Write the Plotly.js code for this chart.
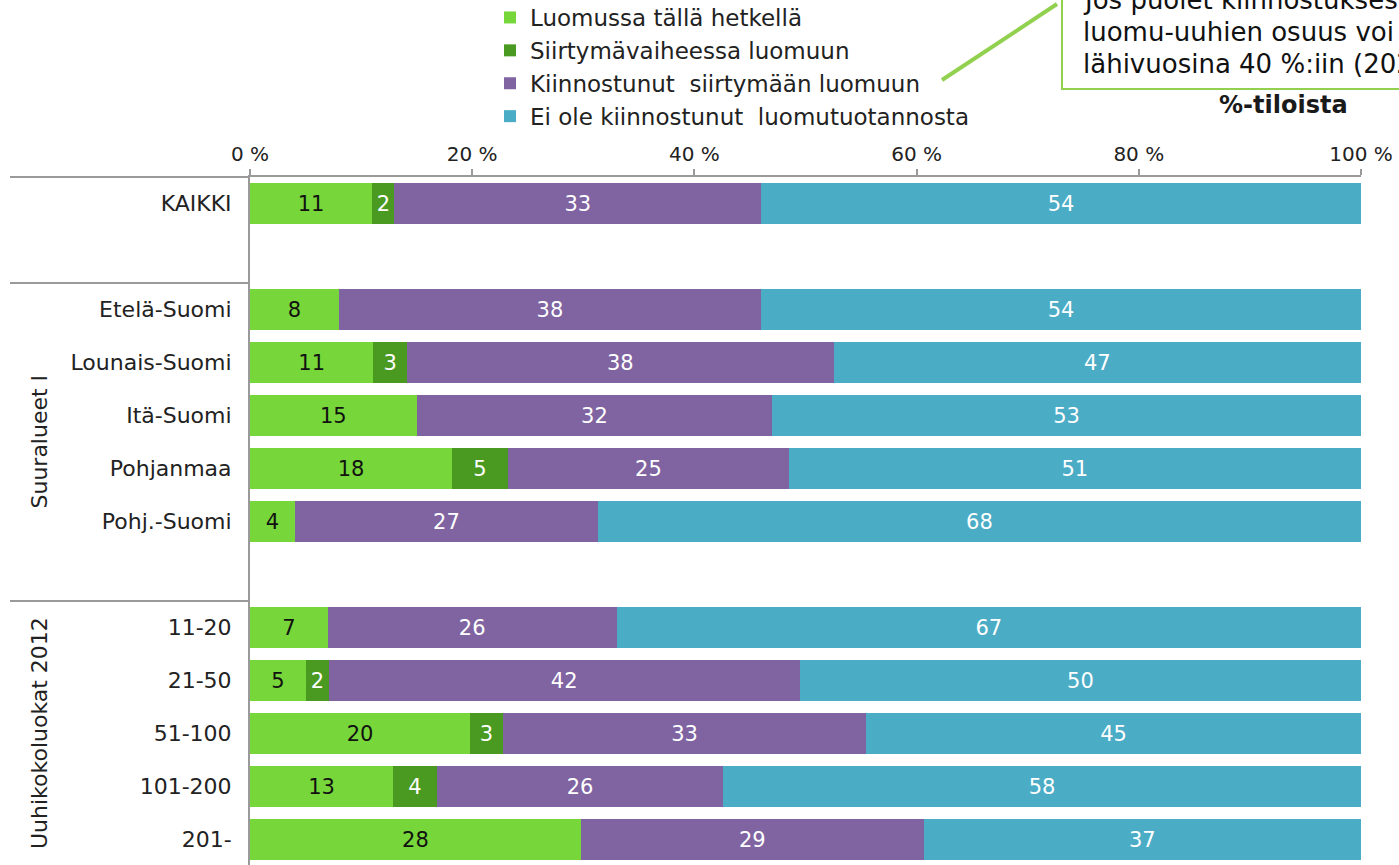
<!DOCTYPE html>
<html><head><meta charset="utf-8">
<script src="https://cdn.plot.ly/plotly-3.0.1.min.js"></script>
<style>html,body{margin:0;padding:0;background:#fff}#chart{width:1399px;height:865px}</style>
</head><body><div id="chart"></div>
<script>
// ---- data ----
const categories = ["KAIKKI","Etelä-Suomi","Lounais-Suomi","Itä-Suomi","Pohjanmaa","Pohj.-Suomi","11-20","21-50","51-100","101-200","201-"];
const slots = [0,2,3,4,5,6,8,9,10,11,12];
const seriesNames = ["Luomussa tällä hetkellä","Siirtymävaiheessa luomuun","Kiinnostunut  siirtymään luomuun","Ei ole kiinnostunut  luomutuotannosta"];
const luomussa      = [11, 8, 11, 15, 18, 4, 7, 5, 20, 13, 28];
const siirtyma      = [2, null, 3, null, 5, null, null, 2, 3, 4, null];
const kiinnostunut  = [33, 38, 38, 32, 25, 27, 26, 42, 33, 26, 29];
const eiKiinnostunut= [54, 54, 47, 53, 51, 68, 67, 50, 45, 58, 37];
const xTicks = [0,20,40,60,80,100];
const groupLabels = ["Suuralueet I","Uuhikokoluokat 2012"];

// ---- layout helpers (pixel -> paper) ----
const L=250, R=1361, T=177, B=865;
const px = p => (p-L)/(R-L);
const py = p => (B-p)/(B-T);

const colors = ["#77d639","#4a9a22","#8064a2","#4bacc6"];
const textColors = ["#111","#fff","#fff","#fff"];
const series = [luomussa, siirtyma, kiinnostunut, eiKiinnostunut];
const FONT = "DejaVu Sans, Verdana, sans-serif";

const traces = series.map((vals,i)=>({
  type:"bar", orientation:"h",
  name: seriesNames[i], legendgroup:"g"+i,
  y: slots, x: vals,
  text: vals.map(v=> v==null? "" : String(v)),
  textposition:"inside", insidetextanchor:"middle", constraintext:"none",
  textangle:0,
  textfont:{family:FONT, size:21, color:textColors[i]},
  marker:{color:colors[i], line:{width:0}},
  width:0.78, hoverinfo:"skip"
}));

const gray="#9a9a9a";
const layout = {
  width:1399, height:865,
  margin:{l:L, r:1399-R, t:T, b:0, autoexpand:false},
  barmode:"stack", barnorm:"percent",
  paper_bgcolor:"#fff", plot_bgcolor:"#fff",
  font:{family:FONT, color:"#222"},
  showlegend:true,
  legend:{x:px(490), xanchor:"left", y:py(-4), yanchor:"top",
          font:{family:FONT, size:23, color:"#222"},
          traceorder:"grouped", tracegroupgap:0, itemwidth:30, bgcolor:"rgba(0,0,0,0)"},
  xaxis:{side:"top", range:[0,100], tickvals:xTicks, ticktext:xTicks.map(v=>v+" %"),
         ticks:"outside", ticklen:6, tickcolor:gray, tickwidth:2,
         showline:true, linecolor:gray, linewidth:2, showgrid:false, zeroline:false,
         tickfont:{family:FONT, size:20, color:"#222"}, fixedrange:true},
  yaxis:{range:[12.48,-0.5], tickvals:slots, ticktext:categories,
         ticks:"", ticklabelstandoff:12, showline:true, linecolor:gray, linewidth:2,
         showgrid:false, zeroline:false,
         tickfont:{family:FONT, size:22, color:"#222"}, fixedrange:true},
  shapes:[
    {type:"line", xref:"paper", yref:"paper", x0:px(10), x1:0, y0:1, y1:1, line:{color:gray,width:2}},
    {type:"line", xref:"paper", yref:"y", x0:px(10), x1:0, y0:1.5, y1:1.5, line:{color:gray,width:2}},
    {type:"line", xref:"paper", yref:"y", x0:px(10), x1:0, y0:7.5, y1:7.5, line:{color:gray,width:2}},
    {type:"rect", xref:"paper", yref:"paper", x0:px(1062), x1:px(1430), y0:py(89), y1:py(-40),
     line:{color:"#92d050",width:2}, fillcolor:"#fff"},
    {type:"line", xref:"paper", yref:"paper", x0:px(942), y0:py(80), x1:px(1057), y1:py(4),
     line:{color:"#92d050",width:4}}
  ],
  annotations:[
    {text:groupLabels[0], xref:"paper", yref:"y", x:px(25), y:4.5, textangle:-90, showarrow:false,
     font:{family:FONT,size:22,color:"#222"}},
    {text:groupLabels[1], xref:"paper", yref:"y", x:px(25), y:10, textangle:-90, showarrow:false,
     font:{family:FONT,size:22,color:"#222"}},
    {text:"Jos puolet kiinnostuksesta", xref:"paper", yref:"paper", x:px(1081), y:py(0), xanchor:"left", yanchor:"middle", showarrow:false,
     font:{family:FONT,size:26,color:"#111"}},
    {text:"luomu-uuhien osuus voi", xref:"paper", yref:"paper", x:px(1081), y:py(32), xanchor:"left", yanchor:"middle", showarrow:false,
     font:{family:FONT,size:26,color:"#111"}},
    {text:"lähivuosina 40 %:iin (2020)", xref:"paper", yref:"paper", x:px(1081), y:py(64), xanchor:"left", yanchor:"middle", showarrow:false,
     font:{family:FONT,size:26,color:"#111"}},
    {text:"<b>%-tiloista</b>", xref:"paper", yref:"paper", x:px(1283), y:py(105), xanchor:"center", yanchor:"middle", showarrow:false,
     font:{family:FONT,size:24,color:"#1a1a1a"}}
  ]
};
Plotly.newPlot("chart", traces, layout, {displayModeBar:false, staticPlot:true});
</script></body></html>
